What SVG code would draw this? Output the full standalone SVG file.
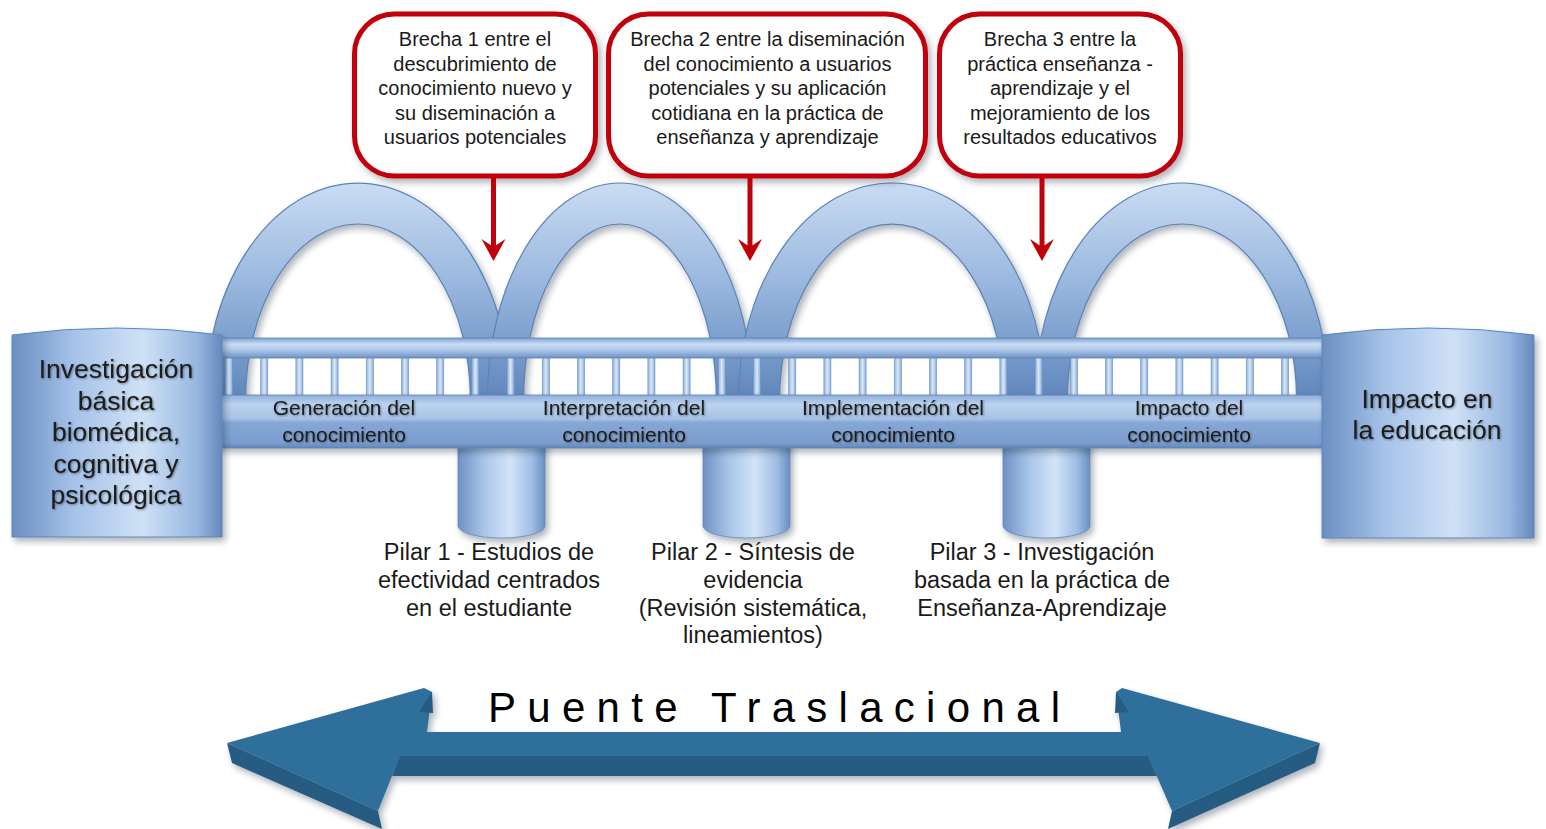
<svg xmlns="http://www.w3.org/2000/svg" xmlns:xlink="http://www.w3.org/1999/xlink" width="1546" height="829" viewBox="0 0 1546 829">
<defs>
<style>
.tx{font-family:"Liberation Sans",Arial,sans-serif;fill:#1a1a1a;text-anchor:middle}
.c{font-size:20px}
.d{font-size:21px}
.p{font-size:23.5px}
.b{font-size:26.5px}
.t{font-size:42px;fill:#000}
.box{fill:#fff;stroke:#c0000a;stroke-width:5}
.arch{fill:url(#gArch);stroke:#5b83b5;stroke-width:1.2}
.pil{fill:url(#gPil);stroke:#5f86b9;stroke-width:0.8}
.blk{fill:url(#gBlk);stroke:#5f86b9;stroke-width:1}
.link{stroke:#c0000a;stroke-width:5;fill:none}
.head{fill:#c0000a}
.af{fill:#2f6f9b}
.ad{fill:#285c82}
</style>
<linearGradient id="gArch" gradientUnits="userSpaceOnUse" x1="0" y1="183" x2="0" y2="400">
<stop offset="0" stop-color="#c9dcf2"/>
<stop offset="0.45" stop-color="#9ab8df"/>
<stop offset="1" stop-color="#5f86bb"/>
</linearGradient>
<linearGradient id="gPil" x1="0" y1="0" x2="1" y2="0">
<stop offset="0" stop-color="#6f92c3"/>
<stop offset="0.3" stop-color="#a8c5ea"/>
<stop offset="0.6" stop-color="#d2e3f7"/>
<stop offset="0.85" stop-color="#9fbde5"/>
<stop offset="1" stop-color="#6a8ec0"/>
</linearGradient>
<linearGradient id="gBlk" x1="0" y1="0" x2="1" y2="0">
<stop offset="0" stop-color="#6a8fc1"/>
<stop offset="0.3" stop-color="#a6c3e9"/>
<stop offset="0.62" stop-color="#cfe1f6"/>
<stop offset="0.88" stop-color="#97b7e1"/>
<stop offset="1" stop-color="#6589bd"/>
</linearGradient>
<linearGradient id="gRail" x1="0" y1="0" x2="0" y2="1">
<stop offset="0" stop-color="#7fa2d0"/>
<stop offset="0.3" stop-color="#c9dcf3"/>
<stop offset="0.55" stop-color="#b5cdec"/>
<stop offset="1" stop-color="#6e93c5"/>
</linearGradient>
<linearGradient id="gDeck" x1="0" y1="0" x2="0" y2="1">
<stop offset="0" stop-color="#8eaedb"/>
<stop offset="0.18" stop-color="#bcd3ef"/>
<stop offset="0.45" stop-color="#a7c2e6"/>
<stop offset="0.52" stop-color="#86a7d5"/>
<stop offset="0.9" stop-color="#7c9ecf"/>
<stop offset="1" stop-color="#5f86bb"/>
</linearGradient>
<linearGradient id="gBal" x1="0" y1="0" x2="1" y2="0">
<stop offset="0" stop-color="#8fb0dc"/>
<stop offset="0.5" stop-color="#dbe8f8"/>
<stop offset="1" stop-color="#8aabd8"/>
</linearGradient>
<filter id="sh" x="-10%" y="-10%" width="130%" height="140%">
<feDropShadow dx="3" dy="4" stdDeviation="3" flood-color="#1c2a3a" flood-opacity="0.35"/>
</filter>
<filter id="tg" x="-10%" y="-30%" width="120%" height="160%">
<feDropShadow dx="1" dy="1" stdDeviation="1.3" flood-color="#000" flood-opacity="0.4"/>
</filter>
<rect id="bal" x="-3.5" y="356" width="7" height="40" fill="url(#gBal)" stroke="#6f94c6" stroke-width="0.7"/>
</defs>

<rect width="1546" height="829" fill="#fff"/>

<!-- Arches -->
<g id="arches" filter="url(#sh)">
<path id="arch1" class="arch" d="M205.4,400 A152.6,217 0 0 1 510.6,400 L470.4,400 A112.4,176 0 0 0 245.6,400 Z"/>
<path id="arch2" class="arch" d="M487.3,400 A132.7,217 0 0 1 752.7,400 L716.4,400 A96.4,176 0 0 0 523.6,400 Z"/>
<path id="arch3" class="arch" d="M738.4,400 A153.6,217 0 0 1 1045.6,400 L1004.4,400 A112.4,176 0 0 0 779.6,400 Z"/>
<path id="arch4" class="arch" d="M1034.7,400 A147.3,217 0 0 1 1329.3,400 L1296.6,400 A114.6,176 0 0 0 1067.4,400 Z"/>
</g>

<!-- Pillars -->
<g id="pillars" filter="url(#sh)">
<path id="pilar1" class="pil" d="M458,440 L458,526 A43.5,12 0 0 0 545,526 L545,440 Z"/>
<path id="pilar2" class="pil" d="M703,440 L703,526 A43.5,12 0 0 0 790,526 L790,440 Z"/>
<path id="pilar3" class="pil" d="M1003,440 L1003,526 A43.5,12 0 0 0 1090,526 L1090,440 Z"/>
</g>

<!-- Railing and deck -->
<g id="deck">
<g id="balusters">
<use xlink:href="#bal" x="229"/><use xlink:href="#bal" x="264.2"/><use xlink:href="#bal" x="299.4"/><use xlink:href="#bal" x="334.6"/>
<use xlink:href="#bal" x="369.8"/><use xlink:href="#bal" x="405"/><use xlink:href="#bal" x="440.2"/><use xlink:href="#bal" x="475.4"/>
<use xlink:href="#bal" x="510.6"/><use xlink:href="#bal" x="545.8"/><use xlink:href="#bal" x="581"/><use xlink:href="#bal" x="616.2"/>
<use xlink:href="#bal" x="651.4"/><use xlink:href="#bal" x="686.6"/><use xlink:href="#bal" x="721.8"/><use xlink:href="#bal" x="757"/>
<use xlink:href="#bal" x="792.2"/><use xlink:href="#bal" x="827.4"/><use xlink:href="#bal" x="862.6"/><use xlink:href="#bal" x="897.8"/>
<use xlink:href="#bal" x="933"/><use xlink:href="#bal" x="968.2"/><use xlink:href="#bal" x="1003.4"/><use xlink:href="#bal" x="1038.6"/>
<use xlink:href="#bal" x="1073.8"/><use xlink:href="#bal" x="1109"/><use xlink:href="#bal" x="1144.2"/><use xlink:href="#bal" x="1179.4"/>
<use xlink:href="#bal" x="1214.6"/><use xlink:href="#bal" x="1249.8"/><use xlink:href="#bal" x="1285"/>
</g>
<rect id="rail" x="215" y="338" width="1115" height="20" fill="url(#gRail)" stroke="#5b82b4" stroke-width="0.8"/>
<rect id="roadway" x="215" y="395" width="1115" height="53" fill="url(#gDeck)" stroke="#5b82b4" stroke-width="0.8" filter="url(#sh)"/>
</g>

<!-- End blocks -->
<g id="blockLeft" filter="url(#sh)">
<path class="blk" d="M12,335 Q117,321 222,335 L222,537 L12,537 Z"/>
</g>
<g id="blockRight" filter="url(#sh)">
<path class="blk" d="M1322,335 Q1428,321 1534,335 L1534,538 L1322,538 Z"/>
</g>

<!-- Block and deck labels -->
<g id="labels" class="tx" filter="url(#tg)">
<text class="b"><tspan x="116" y="378">Investigación</tspan><tspan x="116" y="409.5">básica</tspan><tspan x="116" y="441">biomédica,</tspan><tspan x="116" y="472.5">cognitiva y</tspan><tspan x="116" y="504">psicológica</tspan></text>
<text class="b"><tspan x="1427" y="408">Impacto en</tspan><tspan x="1427" y="439">la educación</tspan></text>
<text class="d"><tspan x="344" y="415">Generación del</tspan><tspan x="344" y="442">conocimiento</tspan></text>
<text class="d"><tspan x="624" y="415">Interpretación del</tspan><tspan x="624" y="442">conocimiento</tspan></text>
<text class="d"><tspan x="893" y="415">Implementación del</tspan><tspan x="893" y="442">conocimiento</tspan></text>
<text class="d"><tspan x="1189" y="415">Impacto del</tspan><tspan x="1189" y="442">conocimiento</tspan></text>
</g>

<!-- Pillar labels -->
<g id="pillarLabels" class="tx">
<text class="p"><tspan x="489" y="560">Pilar 1 - Estudios de</tspan><tspan x="489" y="588">efectividad centrados</tspan><tspan x="489" y="615.5">en el estudiante</tspan></text>
<text class="p"><tspan x="753" y="560">Pilar 2 - Síntesis de</tspan><tspan x="753" y="588">evidencia</tspan><tspan x="753" y="615.5">(Revisión sistemática,</tspan><tspan x="753" y="643">lineamientos)</tspan></text>
<text class="p"><tspan x="1042" y="560">Pilar 3 - Investigación</tspan><tspan x="1042" y="588">basada en la práctica de</tspan><tspan x="1042" y="615.5">Enseñanza-Aprendizaje</tspan></text>
</g>

<!-- Callouts -->
<g id="brecha1">
<rect class="box" x="354.5" y="14" width="241" height="162" rx="40" filter="url(#sh)"/>
<text class="tx c"><tspan x="475" y="46">Brecha 1 entre el</tspan><tspan x="475" y="70.5">descubrimiento de</tspan><tspan x="475" y="95">conocimiento nuevo y</tspan><tspan x="475" y="119.5">su diseminación a</tspan><tspan x="475" y="144">usuarios potenciales</tspan></text>
</g>
<g id="brecha2">
<rect class="box" x="608.5" y="14" width="317" height="162" rx="40" filter="url(#sh)"/>
<text class="tx c"><tspan x="767.5" y="46">Brecha 2 entre la diseminación</tspan><tspan x="767.5" y="70.5">del conocimiento a usuarios</tspan><tspan x="767.5" y="95">potenciales y su aplicación</tspan><tspan x="767.5" y="119.5">cotidiana en la práctica de</tspan><tspan x="767.5" y="144">enseñanza y aprendizaje</tspan></text>
</g>
<g id="brecha3">
<rect class="box" x="939.5" y="14" width="241" height="162" rx="40" filter="url(#sh)"/>
<text class="tx c"><tspan x="1060" y="46">Brecha 3 entre la</tspan><tspan x="1060" y="70.5">práctica enseñanza -</tspan><tspan x="1060" y="95">aprendizaje y el</tspan><tspan x="1060" y="119.5">mejoramiento de los</tspan><tspan x="1060" y="144">resultados educativos</tspan></text>
</g>

<!-- Connectors -->
<g id="connectors">
<line class="link" x1="493.5" y1="178" x2="493.5" y2="250"/>
<path class="head" d="M493.5,261 L481.5,239 L493.5,247 L505.5,239 Z"/>
<line class="link" x1="750" y1="178" x2="750" y2="250"/>
<path class="head" d="M750,261 L738,239 L750,247 L762,239 Z"/>
<line class="link" x1="1042" y1="178" x2="1042" y2="250"/>
<path class="head" d="M1042,261 L1030,239 L1042,247 L1054,239 Z"/>
</g>

<!-- Translational bridge arrow -->
<g id="puente">
<g filter="url(#sh)">
<polygon class="ad" points="227,743 232,763 382,829 378,811"/>
<polygon class="ad" points="400,755 1148,755 1157,776 392,776"/>
<polygon class="ad" points="1320,743 1315,763 1168,829 1172,811"/>
<polygon class="af" points="227,743 424,688 432,692 427,732 1121,732 1116,692 1122,688 1320,743 1172,811 1148,756 400,756 378,811"/>
<polygon class="ad" points="432,692 433,713 419,712"/>
<polygon class="ad" points="1116,692 1115,713 1129,712"/>
</g>
<text class="tx t" x="774" y="722" textLength="572" lengthAdjust="spacing">Puente Traslacional</text>
</g>
</svg>
